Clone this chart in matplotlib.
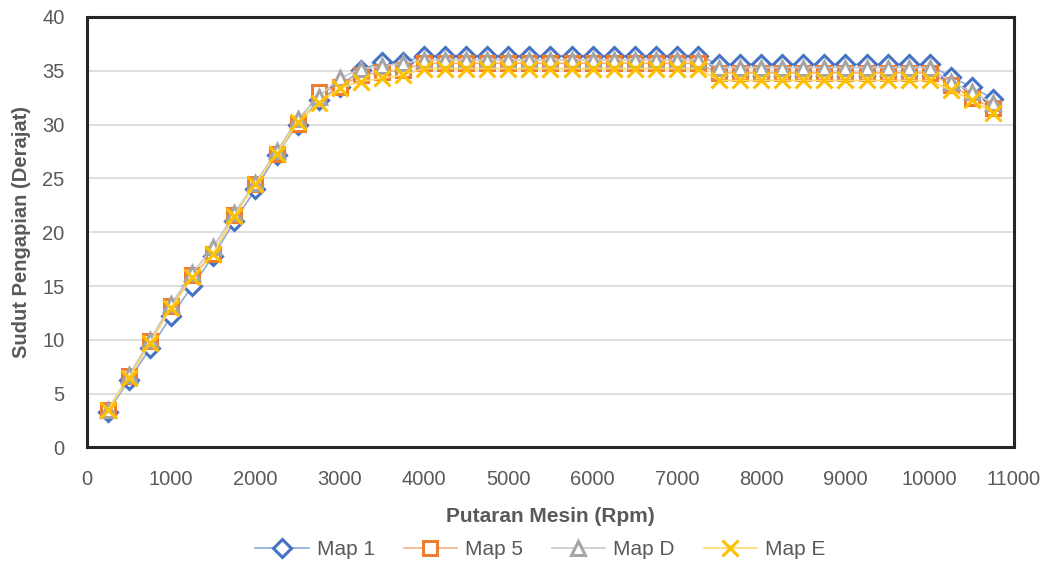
import numpy as np
import matplotlib.pyplot as plt

# putaran mesin (rpm)
rpm = list(range(250, 11000, 250))

map_1 = [3.3, 6.3, 9.2, 12.2, 15.0, 17.8, 21.0, 24.0, 27.2, 30.0, 32.3, 33.5,
         35.1, 35.8, 35.8] + [36.4] * 14 + [35.6] * 11 + [34.4, 33.5, 32.4]
map_5 = [3.5, 6.6, 9.9, 13.1, 16.0, 18.0, 21.6, 24.5, 27.3, 30.1, 33.0, 33.5,
         34.6, 34.9, 35.1] + [35.7] * 14 + [34.8] * 11 + [33.7, 32.5, 31.5]
map_d = [3.5, 6.7, 10.0, 13.3, 16.2, 18.6, 21.8, 24.6, 27.5, 30.5, 32.6, 34.3,
         35.2, 35.4, 35.7] + [36.0] * 14 + [35.3] * 11 + [34.0, 33.0, 32.0]
map_e = [3.5, 6.5, 9.7, 13.0, 15.8, 18.0, 21.5, 24.5, 27.3, 30.2, 32.0, 33.4,
         34.0, 34.3, 34.6] + [35.2] * 14 + [34.1] * 11 + [33.2, 32.3, 31.1]

labels = ["Map 1", "Map 5", "Map D", "Map E"]

plt.rcParams["font.family"] = ["Liberation Sans", "DejaVu Sans"]
txt = "#595959"

fig = plt.figure(figsize=(10.47, 5.65), dpi=100)
ax = fig.add_axes([0.083, 0.208, 0.8855, 0.762])

series = [
    (map_1, "D", "#4472C4", "#8FAADC", 9),
    (map_5, "s", "#ED7D31", "#F4B183", 10),
    (map_d, "^", "#A5A5A5", "#C9C9C9", 10),
    (map_e, "x", "#FFC000", "#FFD966", 11),
]
for (vals, mk, col, lcol, ms), lab in zip(series, labels):
    ax.plot(rpm, vals, color=lcol, lw=1.2, marker=mk, ms=ms,
            mec=col, mfc="white" if mk != "x" else col, mew=2.2, label=lab)

ax.set_xlim(0, 11000)
ax.set_ylim(0, 40)
ax.set_xticks(np.arange(0, 11001, 1000))
ax.set_yticks(np.arange(0, 41, 5))
ax.grid(axis="y", color="#D9D9D9", lw=1.2)
ax.set_axisbelow(True)
ax.tick_params(length=0, labelsize=14.5, colors=txt, pad=16)
for s in ax.spines.values():
    s.set_linewidth(2.2)
    s.set_color("#262626")

ax.set_xlabel("Putaran Mesin (Rpm)", fontsize=15, fontweight="bold", color=txt)
ax.xaxis.set_label_coords(0.5, -0.138)
ax.set_ylabel("Sudut Pengapian (Derajat)", fontsize=14.5, fontweight="bold", color=txt)
ax.yaxis.set_label_coords(-0.06, 0.5)

ax.legend(loc="center", bbox_to_anchor=(0.489, -0.237),
          ncol=4, frameon=False, fontsize=15, labelcolor=txt,
          handlelength=2.55, columnspacing=1.4, handletextpad=0.38)

fig.savefig("out.png", dpi=100)
